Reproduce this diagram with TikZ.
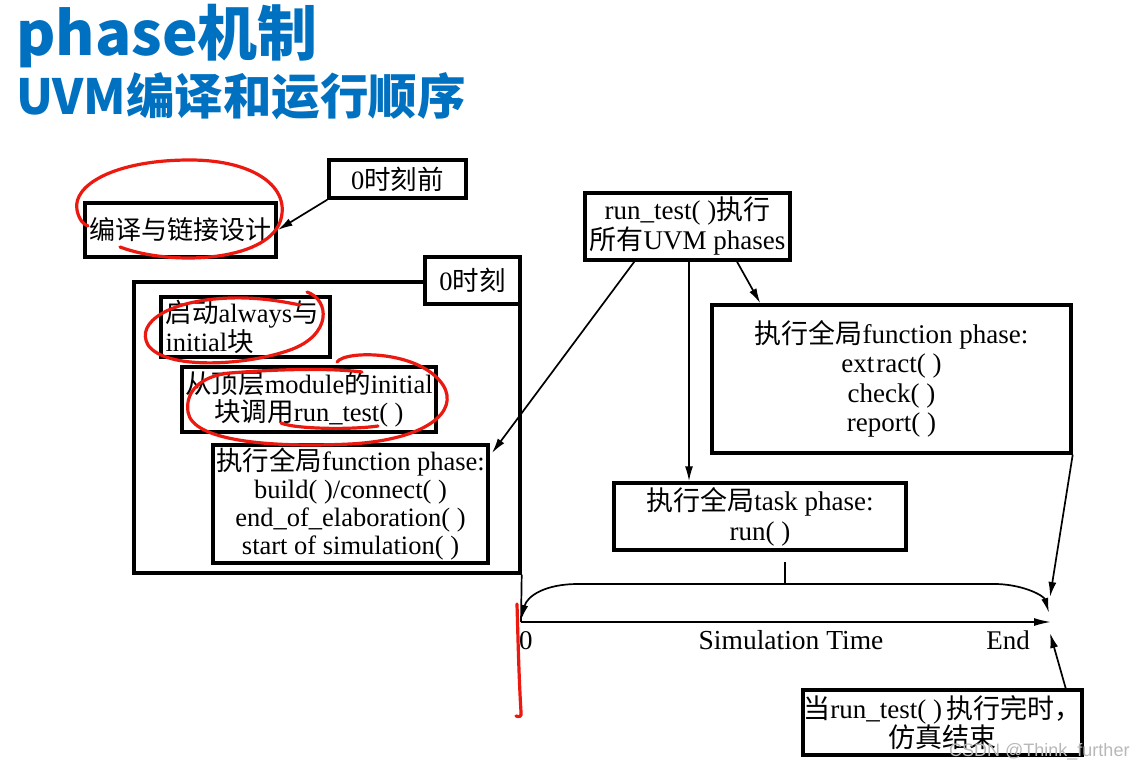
\documentclass[tikz,border=0pt]{standalone}
\usepackage{fontspec}
\setmainfont{Liberation Serif}
\newfontfamily\cjk{Noto Sans CJK SC}
\newfontfamily\wmfont{Liberation Sans}
\usetikzlibrary{arrows.meta,calc}
\newcommand\zh[1]{{\cjk #1}}
\newcommand\fsz[2]{\fontsize{#1}{#2}\selectfont}
\definecolor{titleblue}{RGB}{0,112,192}
\definecolor{annot}{RGB}{235,25,15}
\begin{document}
\begin{tikzpicture}[x=1pt,y=-1pt,
  box/.style={draw, line width=3.4pt, inner sep=0pt, align=center, font=\fsz{26.5}{29}},
  conn/.style={line width=1.7pt},
  arr/.style={line width=1.7pt, -{Latex[length=15pt,width=8pt]}},
  redmark/.style={draw=annot, line width=3.2pt, line cap=round, line join=round},
  title/.style={anchor=base west, text=titleblue, inner sep=0pt}
]
\useasboundingbox[fill=white] (0,0) rectangle (1147,770);

% title
\node[title, font=\cjk\bfseries\fsz{60}{66}] (t1) at (16,56) {phase机制};
\node[title, font=\cjk\bfseries\fsz{48.5}{52}] (t2) at (16,115) {UVM编译和运行顺序};

% boxes
\node[box, minimum width=137, minimum height=38] (b0pre) at (397.5,179) {0\zh{时刻前}};
\node[box, minimum width=191, minimum height=54, font=\fsz{26}{30}] (bcomp) at (180.5,230) {\zh{编译与链接设计}};

\node[draw, line width=3.4pt, minimum width=386, minimum height=291, inner sep=0pt] (frame) at (327,427.5) {};
\node[box, fill=white, minimum width=95, minimum height=47] (b0) at (472.5,280.5) {0\zh{时刻}};

\node[box, minimum width=169, minimum height=60, align=left, text width=160, font=\fsz{26.5}{25}] (balways) at (245.5,327) {\zh{启动}always\zh{与}\\initial\zh{块}};
\node[box, minimum width=254, minimum height=65, font=\fsz{26.5}{28}] (bmodule) at (309,399.5) {\zh{从顶层}module\zh{的}initial\\\zh{块调用}run\_test( )};
\node[box, minimum width=275, minimum height=118, font=\fsz{26.5}{28}] (bfunc1) at (350.5,504) {\zh{执行全局}function phase:\\build( )/connect( )\\end\_of\_elaboration( )\\start of simulation( )};

\node[box, minimum width=205, minimum height=67, font=\fsz{27}{30}] (brun) at (687.5,226.5) {run\_test( )\zh{执行}\\\zh{所有}UVM phases};
\node[box, minimum width=359, minimum height=148, font=\fsz{27}{29.5}] (bfunc2) at (891.5,379) {\zh{执行全局}function phase:\\ext\kern2pt ract( )\\check( )\\report( )};
\node[box, minimum width=292, minimum height=67, font=\fsz{27}{30}] (btask) at (760,516.5) {\zh{执行全局}task phase:\\run( )};
\node[box, minimum width=279, minimum height=65, font=\fsz{27}{29}] (bend) at (942.5,722.5) {\zh{当}run\_test( )\,\zh{执行完时，}\\\zh{仿真结束}};

% timeline coordinates
\coordinate (t0) at (521,622);
\coordinate (tend) at (1051,622);
\coordinate (bl) at (521,620);
\coordinate (br) at (1049,613);
\coordinate (tick) at (785,584);
\coordinate (fend) at (1050,597);
\coordinate (eend) at (1050,633);
\coordinate (f1tip) at (492,453);

% connectors
\draw[arr] (b0pre.south west) -- (bcomp.east);
\draw[arr] ($(brun.south west)+(51,0)$) -- (f1tip);
\draw[arr] ($(brun.south)+(1.5,0)$) coordinate (rv) -- (rv |- btask.north);
\draw[arr] ($(brun.south)+(49.5,0)$) -- ($(bfunc2.north west)+(50,0)$);
\draw[arr] (bfunc2.south east) -- (fend);
\coordinate (bendst) at ($(bend.north east)+(-18,0)$);
\draw[arr] (bendst) -- (eend);
\draw[conn] (frame.south east) -- (t0);
\draw[line width=1.7pt, -{Latex[length=17pt,width=8pt]}] (t0) -- (tend);
\draw[conn, {Latex[length=15pt,width=7pt]}-{Latex[length=15pt,width=7pt]}] (bl) .. controls (527,596) and (545,584) .. (578,584) -- (997,584) .. controls (1025,585) and (1044,596) .. (br);
\draw[conn] ($(btask.south)+(25,10)$) -- (tick);

% timeline labels
\node[font=\fsz{27}{30}, anchor=base west, inner sep=0pt] (l0) at (519,649) {0};
\node[font=\fsz{27.5}{30}, anchor=base, inner sep=0pt] (lsim) at (791,649) {Simulation Time};
\node[font=\fsz{27}{30}, anchor=base, inner sep=0pt] (lend) at (1008,649) {End};

% watermark
\node[font=\wmfont\fsz{18}{20}, text=black!28, anchor=base west, inner sep=0pt] (wm) at (949,756) {CSDN @Think\_further};

% red hand annotations
\draw[redmark] (120,247) .. controls (170,266) and (265,262) .. (280,222)
  .. controls (292,188) and (255,160) .. (190,160)
  .. controls (115,160) and (72,185) .. (77,210)
  .. controls (79,220) and (84,225) .. (88,226);
\draw[redmark] (307,292) .. controls (330,300) and (332,335) .. (290,350)
  .. controls (245,366) and (165,370) .. (148,345)
  .. controls (135,322) and (170,300) .. (230,298)
  .. controls (260,297) and (285,302) .. (300,305);
\draw[redmark] (337,362) .. controls (345,350) and (420,350) .. (443,385)
  .. controls (460,412) and (425,440) .. (350,444)
  .. controls (265,448) and (192,440) .. (188,412)
  .. controls (185,392) and (200,376) .. (230,373)
  .. controls (280,369) and (330,368) .. (362,372);
\draw[redmark] (281,423) .. controls (295,429) and (350,430) .. (378,426);
\draw[redmark] (517,604) .. controls (518,640) and (519,680) .. (521,712)
  .. controls (522,717) and (519,717) .. (516,716);
\end{tikzpicture}
\end{document}
